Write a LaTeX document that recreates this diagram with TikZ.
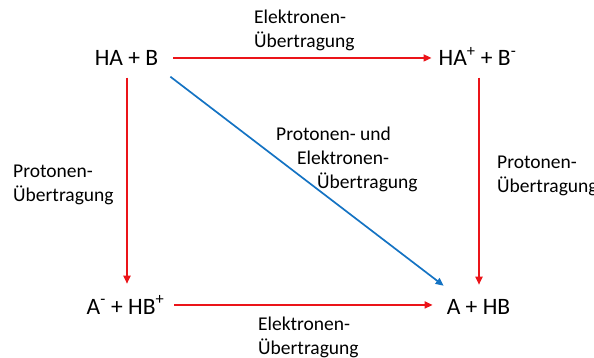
\documentclass[tikz,border=0pt]{standalone}
\usepackage{fontspec}
\setmainfont{Carlito}
\usetikzlibrary{arrows.meta,calc}
\definecolor{arrred}{RGB}{235,20,25}
\definecolor{arrblue}{RGB}{20,115,195}
\begin{document}
\begin{tikzpicture}[x=1pt,y=-1pt,
  chem/.style={inner sep=0pt, font=\fontsize{23.5}{28}\selectfont, anchor=base},
  lbl/.style={inner sep=0pt, font=\fontsize{19.5}{24}\selectfont, align=left, anchor=north west},
  redarrow/.style={draw=arrred, line width=1.7pt, -{Triangle[length=8pt,width=7pt]}},
  bluearrow/.style={draw=arrblue, line width=1.7pt, -{Triangle[length=8pt,width=7pt]}}
]
\useasboundingbox (0,0) rectangle (594,358);
% species
\node[chem] (hab)  at (126.5,65.5) {HA + B};
\node[chem] (habp) at (477.5,65.5) {HA\textsuperscript{+} + B\textsuperscript{-}};
\node[chem] (amhb) at (125.5,314) {A\textsuperscript{-} + HB\textsuperscript{+}};
\node[chem] (ahb)  at (478.5,314) {A + HB};
% labels
\node[lbl] (ltop) at (254,9.5) {Elektronen-\\Übertragung};
\node[lbl] (lleft) at (13,165) {Protonen-\\Übertragung};
\node[lbl] (lright) at (497,156) {Protonen-\\Übertragung};
\node[lbl] (lbot) at (258,317) {Elektronen-\\Übertragung};
\node[lbl] (lmid) at (276,127) {Protonen- und\\\hspace*{21pt}Elektronen-\\\hspace*{41pt}Übertragung};
% arrows
\draw[redarrow] ($(hab.east)+(15,0)$) -- ($(habp.west |- hab.east)+(-7,0)$);
\draw[redarrow] ($(hab.south)+(0.5,12)$) -- ($(hab.south |- amhb.north)+(0.5,-12)$);
\draw[redarrow] ($(ahb.north |- habp.south)+(0.5,12)$) -- ($(ahb.north)+(0.5,-14)$);
\draw[redarrow] ($(amhb.east)+(10,0)$) -- ($(amhb.east -| ahb.west)+(-14,0)$);
\draw[bluearrow] ($(hab.south east)+(12,11)$) -- ($(ahb.north west)+(-3,-13)$);
\end{tikzpicture}
\end{document}
